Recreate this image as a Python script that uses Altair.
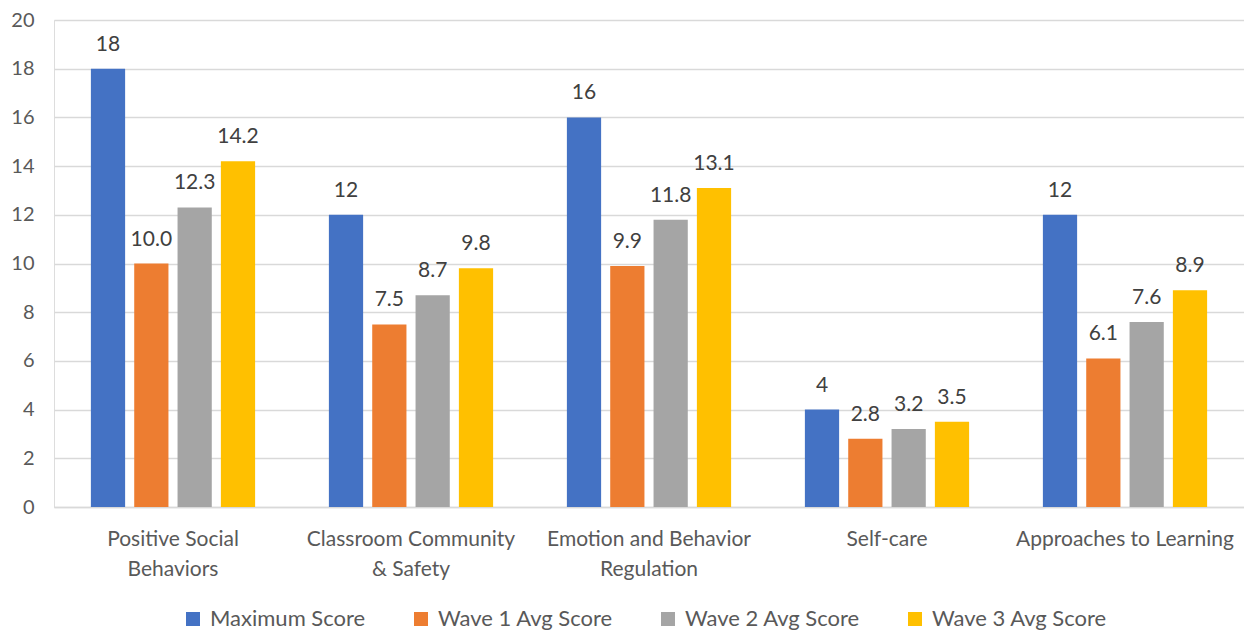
import altair as alt
import pandas as pd

categories = ["Positive Social|Behaviors", "Classroom Community|& Safety",
              "Emotion and Behavior|Regulation", "Self-care", "Approaches to Learning"]
series = ["Maximum Score", "Wave 1 Avg Score", "Wave 2 Avg Score", "Wave 3 Avg Score"]
maximum = [18, 12, 16, 4, 12]
wave1 = [10.0, 7.5, 9.9, 2.8, 6.1]
wave2 = [12.3, 8.7, 11.8, 3.2, 7.6]
wave3 = [14.2, 9.8, 13.1, 3.5, 8.9]
colors = ["#4472C4", "#ED7D31", "#A5A5A5", "#FFC000"]

rows = []
for s, vals in zip(series, [maximum, wave1, wave2, wave3]):
    for c, v in zip(categories, vals):
        lab = f"{v:.0f}" if s == "Maximum Score" else f"{v:.1f}"
        rows.append({"category": c, "series": s, "value": v, "label": lab})
df = pd.DataFrame(rows)

FONT = "Lato"

x = alt.X("category:N", sort=categories, title=None,
          scale=alt.Scale(paddingInner=0.31, paddingOuter=0.155),
          axis=alt.Axis(labelAngle=0, labelExpr="split(datum.label, '|')",
                        labelFontSize=21, labelColor="#595959", labelFont=FONT,
                        labelPadding=21, labelLineHeight=30, ticks=False,
                        labelLimit=400,
                        domainColor="#D9D9D9", domainWidth=1.5, labelBaseline="top"))
xo = alt.XOffset("series:N", sort=series, scale=alt.Scale(paddingInner=0.21, paddingOuter=0))

base = alt.Chart(df)
bars = base.mark_bar().encode(
    x=x, xOffset=xo,
    y=alt.Y("value:Q", title=None,
            scale=alt.Scale(domain=[0, 20], nice=False),
            axis=alt.Axis(values=list(range(0, 21, 2)), labelFontSize=20,
                          labelColor="#595959", labelFont=FONT, ticks=False,
                          domain=False, gridColor="#D9D9D9", gridWidth=1.5,
                          labelPadding=20)),
    color=alt.Color("series:N", sort=series, title=None,
                    scale=alt.Scale(domain=series, range=colors),
                    legend=alt.Legend(orient="none", direction="horizontal",
                                      legendX=128, legendY=588,
                                      symbolType="square", symbolSize=196,
                                      symbolStrokeWidth=0,
                                      labelFontSize=22, labelColor="#595959",
                                      labelFont=FONT, labelOffset=6,
                                      labelLimit=400,
                                      columnPadding=44, gridAlign="none")),
)
texts = base.mark_text(baseline="bottom", dy=-14, fontSize=21, color="#404040",
                       font=FONT).encode(
    x=alt.X("category:N", sort=categories), xOffset=xo,
    y="value:Q", text="label:N")

chart = (bars + texts).properties(
    width=1190, height=487,
    autosize=alt.AutoSizeParams(type="none"),
    padding={"left": 46, "top": 12, "right": 0, "bottom": 123},
).configure_view(stroke=None).configure(font=FONT)

chart.save("out.html", embed_options={"renderer": "svg", "actions": False})
